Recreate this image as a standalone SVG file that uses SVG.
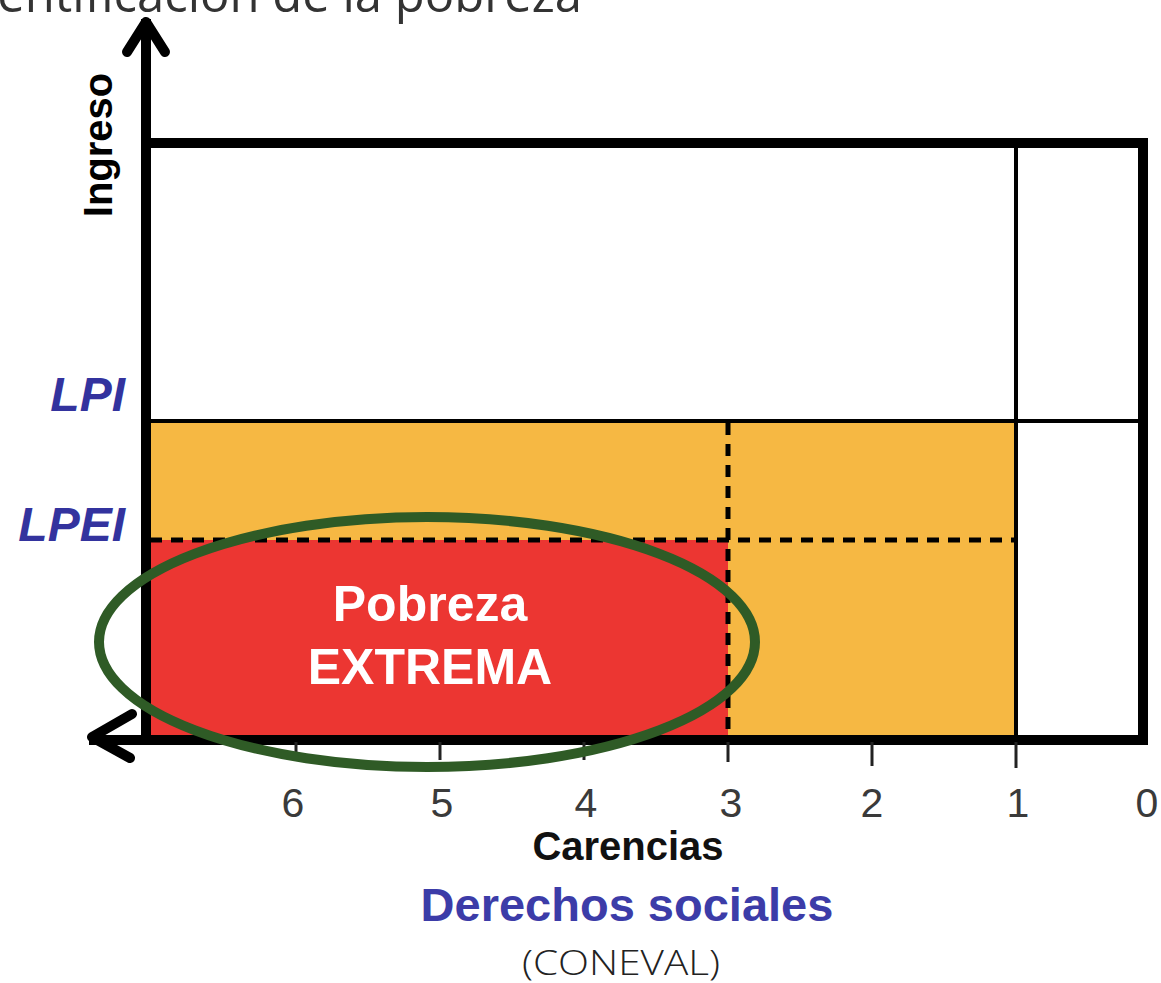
<svg xmlns="http://www.w3.org/2000/svg" width="1161" height="983" viewBox="0 0 1161 983">
<style>
.thick{stroke:#000;stroke-width:10;fill:none;stroke-linecap:square}
.thin{stroke:#000;stroke-width:4;fill:none}
.dash{stroke:#000;stroke-width:5;fill:none;stroke-dasharray:12 9}
.tick{stroke:#222;stroke-width:3}
.arrow{stroke:#000;stroke-width:10;fill:none;stroke-linecap:round;stroke-linejoin:round}
.num{font-family:"Liberation Sans",Arial,sans-serif;font-size:41px;fill:#3a3a3a;text-anchor:middle}
.lab{font-family:"Liberation Sans",Arial,sans-serif;font-weight:bold;font-style:italic;font-size:48px;fill:#33339e;text-anchor:end}
.bold{font-family:"Liberation Sans",Arial,sans-serif;font-weight:bold;text-anchor:middle}
</style>
<rect width="1161" height="983" fill="#fff"/>
<g id="title">
<text x="582" y="12" font-family="'Open Sans',sans-serif" font-size="49" fill="#333" text-anchor="end">Identificación de la pobreza</text>
</g>
<g id="regions">
<rect id="orange" x="150" y="423" width="866" height="315" fill="#f6b843"/>
<rect id="red" x="150" y="540" width="578" height="195" fill="#ec3632"/>
</g>
<g id="connectors">
<line class="thin" x1="146" y1="421" x2="1143" y2="421"/>
<line class="thin" x1="1016" y1="143" x2="1016" y2="740"/>
<line class="dash" x1="150" y1="540" x2="1016" y2="540"/>
<line class="dash" x1="728" y1="423" x2="728" y2="740"/>
<line class="thick" x1="146" y1="143" x2="1143" y2="143"/>
<line class="thick" x1="1143" y1="143" x2="1143" y2="740"/>
<line class="thick" x1="146" y1="24" x2="146" y2="740"/>
<line class="thick" x1="94" y1="740" x2="1143" y2="740"/>
<polyline class="arrow" points="127,52 146,22 165,52"/>
<polyline class="arrow" points="132,714 92,737 130,758"/>
<line class="tick" x1="296" y1="742" x2="296" y2="752"/>
<line class="tick" x1="440" y1="742" x2="440" y2="760"/>
<line class="tick" x1="584" y1="742" x2="584" y2="760"/>
<line class="tick" x1="728" y1="742" x2="728" y2="762"/>
<line class="tick" x1="872" y1="742" x2="872" y2="766"/>
<line class="tick" x1="1016" y1="742" x2="1016" y2="768"/>
</g>
<g id="ellipse">
<ellipse cx="427" cy="642" rx="328" ry="125" fill="none" stroke="#2f5b26" stroke-width="10"/>
</g>
<g id="labels">
<text class="bold" font-size="40" transform="translate(112,145) rotate(-90)">Ingreso</text>
<text class="lab" x="125" y="411">LPI</text>
<text class="lab" x="125" y="541">LPEI</text>
<text class="bold" font-size="50" fill="#fff" x="430" y="621">Pobreza</text>
<text class="bold" font-size="50" fill="#fff" x="430" y="684">EXTREMA</text>
<text class="num" x="293" y="817">6</text>
<text class="num" x="442" y="817">5</text>
<text class="num" x="586" y="817">4</text>
<text class="num" x="731" y="817">3</text>
<text class="num" x="872" y="817">2</text>
<text class="num" x="1018" y="817">1</text>
<text class="num" x="1147" y="817">0</text>
<text class="bold" font-size="40" fill="#111" x="628" y="860">Carencias</text>
<text class="bold" font-size="47" fill="#3c3ca8" x="627" y="921">Derechos sociales</text>
<text x="621" y="975" font-family="'Open Sans',sans-serif" font-weight="300" font-size="34" fill="#222" text-anchor="middle" textLength="198" lengthAdjust="spacingAndGlyphs">(CONEVAL)</text>
</g>
</svg>
